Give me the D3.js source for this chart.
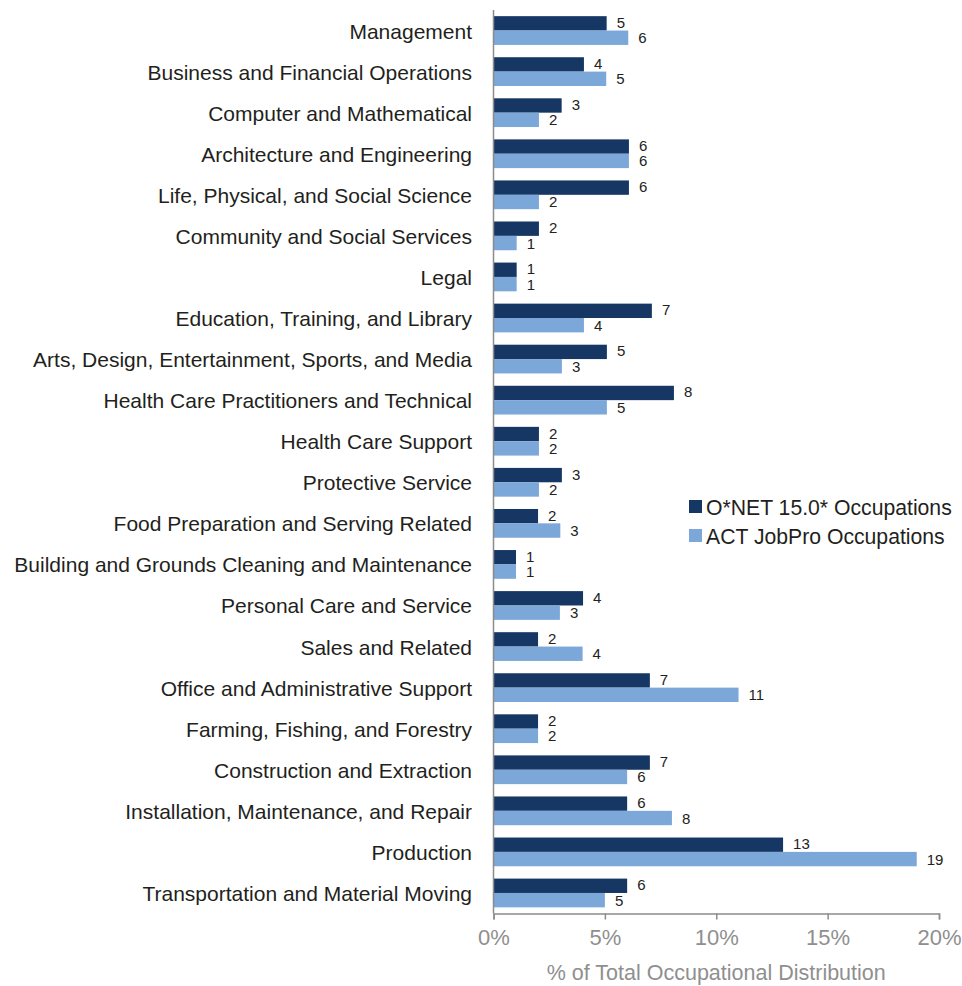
<!DOCTYPE html>
<html>
<head>
<meta charset="utf-8">
<script src="https://cdn.jsdelivr.net/npm/d3@7"></script>
<style>
  html, body { margin: 0; padding: 0; background: #fff; }
  svg { display: block; }
  text { font-family: "Liberation Sans", Arial, sans-serif; }
</style>
</head>
<body>
<svg id="chart" width="962" height="986"></svg>
<script>
const categories = [
  "Management",
  "Business and Financial Operations",
  "Computer and Mathematical",
  "Architecture and Engineering",
  "Life, Physical, and Social Science",
  "Community and Social Services",
  "Legal",
  "Education, Training, and Library",
  "Arts, Design, Entertainment, Sports, and Media",
  "Health Care Practitioners and Technical",
  "Health Care Support",
  "Protective Service",
  "Food Preparation and Serving Related",
  "Building and Grounds Cleaning and Maintenance",
  "Personal Care and Service",
  "Sales and Related",
  "Office and Administrative Support",
  "Farming, Fishing, and Forestry",
  "Construction and Extraction",
  "Installation, Maintenance, and Repair",
  "Production",
  "Transportation and Material Moving"
];
const onetValues = [5.08, 4.06, 3.06, 6.08, 6.08, 2.04, 1.04, 7.11, 5.09, 8.1, 2.04, 3.07, 2.0, 1.01, 4.02, 2.0, 7.02, 2.0, 7.02, 6.0, 13.0, 6.0];
const actValues  = [6.05, 5.06, 2.04, 6.08, 2.04, 1.04, 1.04, 4.06, 3.07, 5.09, 2.04, 2.04, 3.0, 1.01, 2.98, 4.0, 11.0, 2.0, 6.0, 8.01, 19.0, 5.0];
const seriesNames = ["O*NET 15.0* Occupations", "ACT JobPro Occupations"];
const seriesColors = ["#163763", "#7ba7d9"];
const xTicks = [0, 5, 10, 15, 20];
const xTitle = "% of Total Occupational Distribution";

const svg = d3.select("#chart");
const x = d3.scaleLinear().domain([0, 20]).range([493.5, 939]);
const y = d3.scaleBand().domain(categories).range([10, 913.5]).paddingInner(0.3).paddingOuter(0.15);
const sub = d3.scaleBand().domain([0, 1]).range([0, y.bandwidth()]);

const rows = categories.map((c, i) => ({ c, v: [onetValues[i], actValues[i]] }));

const g = svg.append("g");
const rowG = g.selectAll("g.row").data(rows).join("g")
  .attr("class", "row")
  .attr("transform", d => `translate(0,${y(d.c)})`);

rowG.selectAll("rect").data(d => d.v).join("rect")
  .attr("x", x(0))
  .attr("y", (d, i) => sub(i))
  .attr("width", d => x(d) - x(0))
  .attr("height", sub.bandwidth())
  .attr("fill", (d, i) => seriesColors[i]);

rowG.selectAll("text.val").data(d => d.v).join("text")
  .attr("class", "val")
  .attr("x", d => x(d) + 10)
  .attr("y", (d, i) => sub(i) + sub.bandwidth() / 2 + (i === 0 ? 4.5 : 5.5))
  .attr("font-size", 15)
  .attr("fill", "#222")
  .text(d => d3.format(".0f")(d));

// category labels
g.selectAll("text.cat").data(categories).join("text")
  .attr("class", "cat")
  .attr("x", 472)
  .attr("y", d => y(d) + y.bandwidth() / 2 + 8)
  .attr("text-anchor", "end")
  .attr("font-size", 21)
  .attr("fill", "#231f20")
  .text(d => d);

// y axis line
svg.append("line")
  .attr("x1", x(0)).attr("x2", x(0))
  .attr("y1", 10).attr("y2", 913.5)
  .attr("stroke", "#8c8c8c").attr("stroke-width", 1.5);

// x axis
const xAxis = d3.axisBottom(x).tickValues(xTicks).tickFormat(d => d + "%").tickSize(6).tickPadding(10);
const ax = svg.append("g").attr("transform", "translate(0,913.5)").call(xAxis);
ax.select(".domain").attr("stroke", "#8c8c8c").attr("stroke-width", 1.5);
ax.selectAll(".tick line").attr("stroke", "#8c8c8c").attr("stroke-width", 1.5);
ax.selectAll(".tick text")
  .attr("font-family", "Liberation Sans, Arial, sans-serif")
  .attr("font-size", 22).attr("fill", "#8f8f8f");

svg.append("text")
  .attr("x", (x(0) + x(20)) / 2)
  .attr("y", 980)
  .attr("text-anchor", "middle")
  .attr("font-size", 21.5)
  .attr("fill", "#8f8f8f")
  .text(xTitle);

// legend
const leg = svg.append("g").selectAll("g").data(seriesNames).join("g")
  .attr("transform", (d, i) => `translate(689,${500 + i * 29})`);
leg.append("rect").attr("width", 13).attr("height", 13)
  .attr("fill", (d, i) => seriesColors[i]);
leg.append("text").attr("x", 17).attr("y", 15)
  .attr("font-size", 21.2).attr("fill", "#231f20")
  .text(d => d);
</script>
</body>
</html>
